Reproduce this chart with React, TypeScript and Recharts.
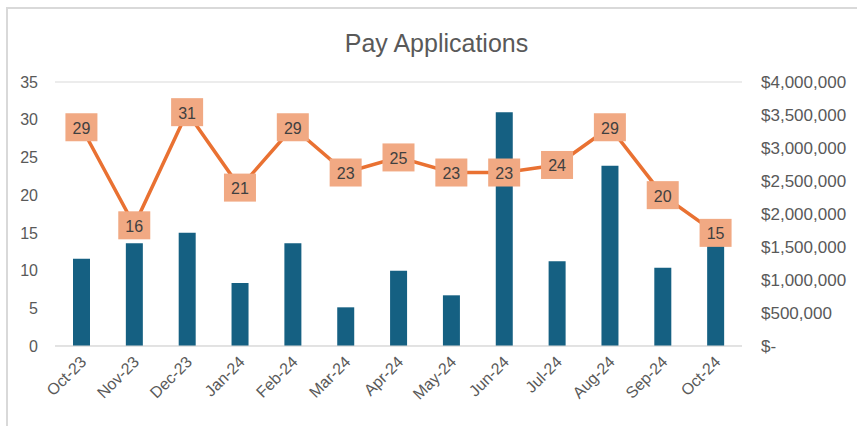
import {
  ComposedChart,
  Bar,
  Line,
  XAxis,
  YAxis,
  CartesianGrid,
  LabelList,
} from "recharts";

const months = [
  "Oct-23", "Nov-23", "Dec-23", "Jan-24", "Feb-24", "Mar-24", "Apr-24",
  "May-24", "Jun-24", "Jul-24", "Aug-24", "Sep-24", "Oct-24",
];
const amounts = [
  1323000, 1556000, 1717000, 955000, 1556000, 586000, 1141000,
  768000, 3541000, 1283000, 2732000, 1187000, 1550000,
];
const counts = [29, 16, 31, 21, 29, 23, 25, 23, 23, 24, 29, 20, 15];
const countTicks = [0, 5, 10, 15, 20, 25, 30, 35];
const amountTicks = [0, 500000, 1000000, 1500000, 2000000, 2500000, 3000000, 3500000, 4000000];

const data = months.map((m, i) => ({ month: m, amount: amounts[i], count: counts[i] }));

const font = "'Liberation Sans', Arial, sans-serif";
const tickStyle = { fill: "#595959", fontSize: 16, fontFamily: font };

const money = (v: number) => (v === 0 ? "$-" : "$" + v.toLocaleString("en-US"));

const MonthTick = (props: any) => {
  const { x, y, payload } = props;
  return (
    <text
      x={x + 2}
      y={y + 5}
      transform={`rotate(-45, ${x + 2}, ${y + 5})`}
      textAnchor="end"
      dominantBaseline="central"
      fill="#595959"
      fontSize={16}
      fontFamily={font}
    >
      {payload.value}
    </text>
  );
};

const BoxLabel = (props: any) => {
  const { x, y, value } = props;
  return (
    <g>
      <rect x={x - 16} y={y - 14} width={32} height={28} fill="#F1A983" />
      <text
        x={x}
        y={y + 1}
        textAnchor="middle"
        dominantBaseline="central"
        fill="#404040"
        fontSize={16}
        fontFamily={font}
      >
        {value}
      </text>
    </g>
  );
};

export default function App() {
  return (
    <div
      style={{
        position: "absolute",
        left: 0,
        top: 0,
        width: 857,
        height: 426,
        background: "#fff",
        overflow: "hidden",
      }}
    >
      <div
        style={{
          position: "absolute",
          left: 6,
          top: 7,
          width: 900,
          height: 500,
          borderTop: "2px solid #d9d9d9",
          borderLeft: "2px solid #d9d9d9",
        }}
      />
      <div
        style={{
          position: "absolute",
          left: 0,
          width: 873,
          top: 29,
          textAlign: "center",
          fontFamily: font,
          fontSize: 25,
          color: "#595959",
        }}
      >
        Pay Applications
      </div>
      <ComposedChart
        width={857}
        height={426}
        data={data}
        margin={{ top: 82, right: 0, bottom: 0, left: 0 }}
        style={{ position: "absolute", left: 0, top: 0 }}
      >
        <CartesianGrid vertical={false} stroke="#d9d9d9" />
        <XAxis
          dataKey="month"
          height={80}
          axisLine={{ stroke: "#d9d9d9" }}
          tickLine={false}
          interval={0}
          tick={<MonthTick />}
        />
        <YAxis
          yAxisId="left"
          width={55}
          domain={[0, 35]}
          ticks={countTicks}
          axisLine={false}
          tickLine={false}
          tickMargin={11}
          tick={tickStyle}
        />
        <YAxis
          yAxisId="right"
          orientation="right"
          width={115}
          domain={[0, 4000000]}
          ticks={amountTicks}
          axisLine={false}
          tickLine={false}
          tickMargin={13}
          tick={{ ...tickStyle, fontSize: 17, textAnchor: "start" }}
          tickFormatter={money}
        />
        <Bar
          yAxisId="right"
          dataKey="amount"
          fill="#156082"
          barSize={17}
          isAnimationActive={false}
        />
        <Line
          yAxisId="left"
          dataKey="count"
          stroke="#E97132"
          strokeWidth={3.5}
          dot={false}
          isAnimationActive={false}
        >
          <LabelList dataKey="count" content={<BoxLabel />} />
        </Line>
      </ComposedChart>
    </div>
  );
}
